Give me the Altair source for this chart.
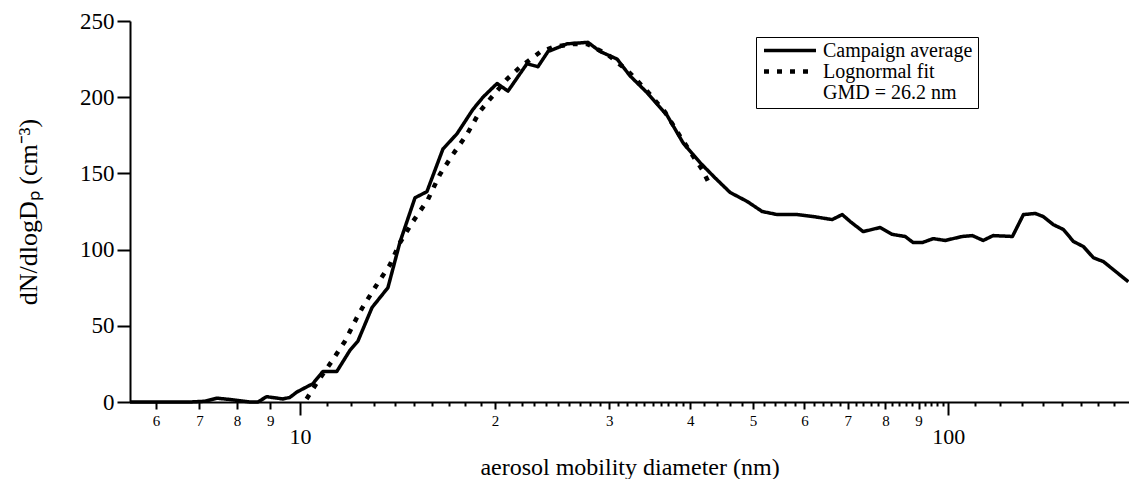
import altair as alt
import pandas as pd

# Campaign average (solid)
avg_diam = [5.47, 6.08, 6.76, 7.14, 7.45, 7.86, 8.37, 8.61, 8.89, 9.41, 9.65, 9.89,
            10.47, 10.85, 11.40, 11.95, 12.29, 12.92, 13.67, 14.27, 15.05, 15.70,
            16.62, 17.47, 18.49, 19.16, 20.14, 20.94, 22.40, 23.29, 24.14, 25.82,
            27.82, 29.04, 30.85, 32.30, 34.31, 36.85, 39.0, 41.43, 43.7, 46.08,
            48.96, 51.64, 54.47, 58.48, 61.9, 66.22, 68.62, 70.6, 73.93, 78.5,
            81.96, 85.8, 88.3, 91.19, 94.8, 98.9, 105.1, 108.9, 113.2, 117.3,
            125.6, 130.6, 136.2, 140.1, 145.2, 150.5, 156.0, 161.6, 167.4, 173.5, 189.6]
avg_conc = [0, 0, 0, 0.5, 2.5, 1.5, 0, 0, 3.5, 2, 3, 6.5,
            12, 20, 20, 34, 40, 62, 75, 105, 134, 138,
            166, 176, 192, 200, 209, 204, 222, 220, 230, 235,
            236, 230, 225, 214, 203, 188, 170, 157, 147, 137.5,
            131.6, 125, 123, 123, 121.7, 119.7, 123, 118.4, 111.8, 114.5,
            110, 108.6, 104.6, 104.6, 107.2, 106, 108.6, 109.2, 106, 109.2,
            108.6, 123, 123.7, 121.7, 116.4, 113.2, 105.3, 102, 94.7, 92.1, 78.9]

# Lognormal fit (dotted)
fit_diam = [10.24, 10.61, 11.19, 11.73, 12.23, 12.51, 13.2, 13.77, 14.27, 14.94,
            15.76, 16.44, 17.22, 18.1, 18.96, 19.64, 20.86, 21.85, 23.47, 24.57,
            26.38, 27.73, 29.77, 32.08, 34.43, 36.59, 38.59, 40.42, 41.73, 42.63]
fit_conc = [2, 12.3, 26.5, 39.7, 55, 62.5, 78.3, 90.1, 104.6, 118.4,
            132.9, 149.3, 162.5, 175.7, 190.8, 198.7, 211.8, 219.7, 229.6, 232.9,
            234.9, 234.9, 228.3, 217.1, 203.3, 190.1, 174.3, 161.2, 152.6, 144.7]

series_names = ["Campaign average", "Lognormal fit", "\u00a0\u00a0GMD = 26.2 nm"]
y_ticks = [0, 50, 100, 150, 200, 250]
x_major = [10, 100]
x_labeled_minor = [6, 7, 8, 9, 20, 30, 40, 50, 60, 70, 80, 90]
x_unlabeled = ([11, 12, 13, 14, 15, 16, 17, 18, 19] + [21, 22, 23, 24, 25, 26, 27, 28, 29]
               + [31, 32, 33, 34, 35, 36, 37, 38, 39] + [42, 44, 46, 48, 52, 54, 56, 58,
               62, 64, 66, 68, 72, 74, 76, 78, 82, 84, 86, 88, 92, 94, 96, 98]
               + [110, 120, 130, 140, 150, 160, 170, 180])

df = pd.concat([
    pd.DataFrame({"d": avg_diam, "c": avg_conc, "series": series_names[0]}),
    pd.DataFrame({"d": fit_diam, "c": fit_conc, "series": series_names[1]}),
])

FONT = "Liberation Serif"
major_test = "datum.value == 10 || datum.value == 100"
lab_test = "indexof([6,7,8,9,20,30,40,50,60,70,80,90], datum.value) >= 0"

x_axis = alt.Axis(
    values=sorted(x_major + x_labeled_minor + x_unlabeled),
    labelExpr=f"({major_test}) ? format(datum.value, 'd') : (({lab_test}) ? format(datum.value < 10 ? datum.value : datum.value / 10, 'd') : '')",
    tickSize={"condition": [{"test": major_test, "value": 13}, {"test": lab_test, "value": 7}], "value": 4},
    labelFontSize={"condition": {"test": major_test, "value": 22}, "value": 15},
    labelPadding={"condition": {"test": major_test, "value": 11}, "value": 4},
    tickWidth=2, domainWidth=2, labelFlush=False, labelOverlap=False, grid=False,
    labelFont=FONT, titleFont=FONT, titleFontWeight="normal", labelColor="black",
    title="aerosol mobility diameter (nm)", titleFontSize=24, titlePadding=8,
)

y_axis = alt.Axis(values=y_ticks, tickSize=13, tickWidth=2, domainWidth=2, grid=False,
                  labelFont=FONT, titleFont=FONT, titleFontWeight="normal", labelColor="black",
                  labelFontSize=23, labelPadding=3,
                  title="dN/dlogDₚ (cm⁻³)", titleFontSize=26, titlePadding=38)

legend = alt.Legend(
    title=None, orient="none", legendX=626, legendY=16,
    strokeColor="black", padding=5, symbolType="stroke", symbolSize=2700,
    symbolStrokeWidth=5,
    labelFont=FONT, labelFontSize=20, labelColor="black", labelOffset=4,
    rowPadding=0, clipHeight=17, labelLimit=300,
)

chart = alt.Chart(df).mark_line(strokeCap="butt", strokeJoin="round").encode(
    x=alt.X("d:Q", scale=alt.Scale(type="log", domain=[5.47, 190], nice=False), axis=x_axis),
    y=alt.Y("c:Q", scale=alt.Scale(domain=[0, 250], nice=False), axis=y_axis),
    color=alt.Color("series:N", scale=alt.Scale(domain=series_names, range=["black", "black", "transparent"]), legend=legend),
    strokeDash=alt.StrokeDash("series:N", scale=alt.Scale(domain=series_names, range=[[1, 0], [5, 8], [1, 0]]), legend=legend),
    strokeWidth=alt.StrokeWidth("series:N", scale=alt.Scale(domain=series_names, range=[3.5, 5.5, 0]), legend=legend),
).properties(
    width=999, height=381,
    autosize=alt.AutoSizeParams(type="none"),
    padding={"left": 130, "top": 21, "right": 0, "bottom": 77},
).configure(background="white").configure_view(stroke=None).configure_axis(
    domainColor="black", tickColor="black", labelColor="black", titleColor="black",
    labelFont=FONT, titleFont=FONT, titleFontWeight="normal", grid=False,
)

chart.save("out.html", embed_options={"renderer": "svg", "actions": False})
